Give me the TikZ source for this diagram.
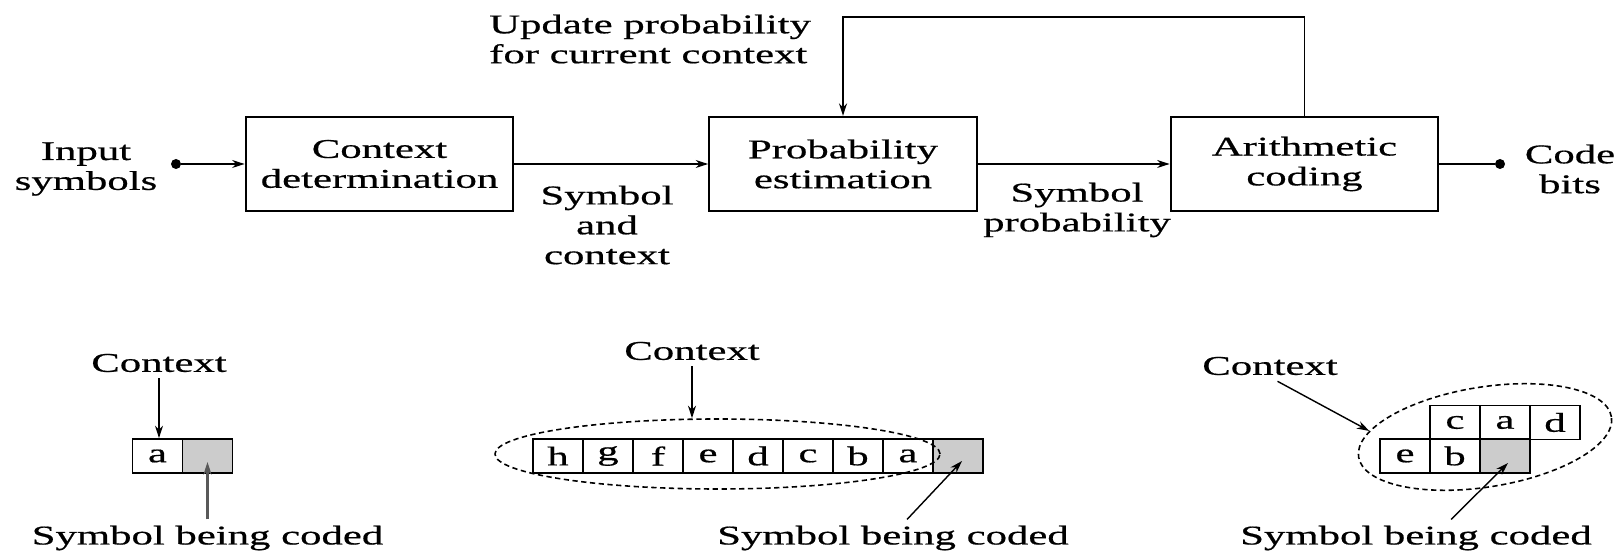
\documentclass[tikz,border=0pt]{standalone}
\usepackage{fontspec}
\setmainfont{Liberation Serif}[FakeStretch=1.58, FakeBold=0.6]
\usetikzlibrary{arrows.meta,positioning,shapes.geometric,calc}

\begin{document}
\begin{tikzpicture}[
    font=\fontsize{15.4}{17}\selectfont,
    block/.style={draw, line width=1.3pt, minimum width=5.35cm, minimum height=1.88cm, align=center},
    cell/.style={draw, line width=1pt, minimum width=1cm, minimum height=0.68cm, inner sep=0},
    shaded/.style={cell, fill=gray!40},
    ctx/.style={draw, ellipse, dash pattern=on 3pt off 2pt, line width=0.9pt, inner sep=0},
    dot/.style={circle, fill, inner sep=0, minimum size=0.2cm},
    arrow/.style={-{Stealth[length=2.5mm, width=1.6mm]}, line width=0.8pt}
]
\useasboundingbox (0,0) rectangle (32.42,-11.04);

% Coder chain (top)
\node[block] (cd) at (7.59,-3.28) {Context\\determination};
\node[block] (pe) at (16.86,-3.28) {Probability\\estimation};
\node[block] (ac) at (26.09,-3.28) {Arithmetic\\coding};
\node[dot] (in) at (3.52,-3.28) {};
\node[dot] (out) at (30.0,-3.28) {};
\node[align=center] (inlbl) at (1.72,-3.38) {Input\\symbols};
\node[align=center] (outlbl) at (31.4,-3.38) {Code\\bits};
\node[align=center] (sc) at (12.14,-4.5) {Symbol\\and\\context};
\node[align=center] (sp) at (21.54,-4.2) {Symbol\\probability};
\node[align=left, anchor=west] (upd) at (9.66,-0.78) {Update probability\\for current context};
\coordinate (fbr) at (26.09,-0.34);
\coordinate (fbl) at (16.86,-0.34);

\draw[arrow] (in) -- (cd);
\draw[arrow] (cd) -- (pe);
\draw[arrow] (pe) -- (ac);
\draw[line width=0.8pt] (ac) -- (out);
\draw[arrow, line width=1.1pt] (ac.north) -- (fbr) -- (fbl) -- (pe.north);

% One symbol of context (bottom left)
\node (lblL) at (3.18,-7.26) {Context};
\node[cell] (aL) at (3.15,-9.12) {a};
\node[shaded] (gL) at (4.15,-9.12) {};
\node (symL) at (4.15,-10.76) {Symbol being coded};
\coordinate (tipL) at ($(gL.center)+(0,-0.12)$);
\draw[arrow] (lblL.south) -- (lblL.south |- aL.north);
\draw[arrow, line width=1.3pt, gray!70!black] (symL.north) -- (tipL);

% Eight symbols of context (bottom middle)
\node (lblM) at (13.84,-7.02) {Context};
\node[cell] (hM) at (11.16,-9.12) {h};
\node[cell] (gM1) at (12.16,-9.12) {g};
\node[cell] (fM) at (13.16,-9.12) {f};
\node[cell] (eM) at (14.16,-9.12) {e};
\node[cell] (dM) at (15.16,-9.12) {d};
\node[cell] (cM) at (16.16,-9.12) {c};
\node[cell] (bM) at (17.16,-9.12) {b};
\node[cell] (aM) at (18.16,-9.12) {a};
\node[shaded] (gM) at (19.16,-9.12) {};
\node[ctx, minimum width=8.9cm, minimum height=1.4cm] (ctxM) at (14.35,-9.08) {};
\node (symM) at (17.86,-10.76) {Symbol being coded};
\coordinate (tipM) at ($(gM.center)+(0.08,-0.1)$);
\draw[arrow] (lblM.south) -- (lblM.south |- ctxM.north);
\draw[arrow] ($(symM.north)+(0.28,0)$) -- (tipM);

% Two-row context (bottom right)
\node (lblR) at (25.4,-7.32) {Context};
\node[cell] (cR) at (29.1,-8.45) {c};
\node[cell] (aR) at (30.1,-8.45) {a};
\node[cell] (dR) at (31.1,-8.45) {d};
\node[cell] (eR) at (28.1,-9.12) {e};
\node[cell] (bR) at (29.1,-9.12) {b};
\node[shaded] (gR) at (30.1,-9.12) {};
\node[ctx, minimum width=5.12cm, minimum height=2.0cm, rotate=9] (ctxR) at (29.7,-8.74) {};
\node (symR) at (28.32,-10.76) {Symbol being coded};
\coordinate (tipR) at ($(gR.center)+(0.06,-0.14)$);
\draw[arrow] ($(lblR.south)+(0.15,0)$) -- (ctxR.168);
\draw[arrow] ($(symR.north)+(0.7,0)$) -- (tipR);
\end{tikzpicture}
\end{document}
